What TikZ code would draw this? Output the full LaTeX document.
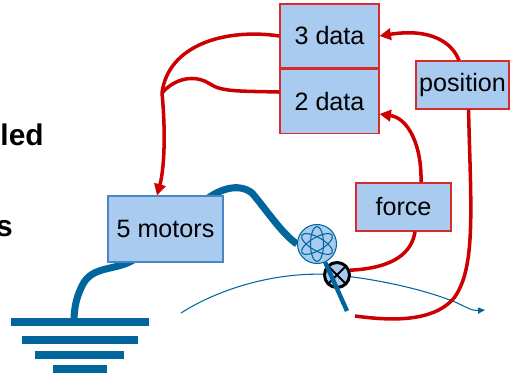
\documentclass[tikz,border=0pt]{standalone}
\usepackage{fontspec}
\setmainfont{Liberation Sans}
\usetikzlibrary{arrows.meta,positioning,backgrounds}
\definecolor{boxblue}{HTML}{A9CBEF}
\definecolor{boxred}{HTML}{D92B2B}
\definecolor{sigred}{HTML}{CC0000}
\definecolor{wireblue}{HTML}{00669B}
\definecolor{motorblue}{HTML}{4A86C5}

\begin{document}
\begin{tikzpicture}[x=0.02cm,y=-0.02cm,
  blk/.style={draw=boxred,fill=boxblue,line width=0.6pt,inner sep=1pt,font=\fontsize{14.3}{16}\selectfont},
  sig/.style={draw=sigred,line width=2pt},
  wire/.style={draw=wireblue,line width=4pt},
  trail/.style={draw=wireblue,line width=0.6pt,-{Triangle[length=4pt,width=3.5pt]}},
  >={Triangle[length=6.5pt,width=6.5pt]}
]
  \useasboundingbox (0,0) rectangle (510,377);

  % slide text cut off at the left
  \node[anchor=base east,inner sep=0pt,font=\bfseries\fontsize{17}{18}\selectfont] (txtA) at (44,146) {lled};
  \node[anchor=base east,inner sep=0pt,font=\bfseries\fontsize{17}{18}\selectfont] (txtB) at (13,237) {s};

  % blocks
  \node[blk,draw=motorblue,minimum width=2.3cm,minimum height=1.32cm] (motors) at (165.5,229) {5 motors};
  \node[blk,minimum width=1.98cm,minimum height=1.28cm] (d3) at (329.5,36) {3 data};
  \node[blk,minimum width=1.98cm,minimum height=1.28cm,below=0pt of d3] (d2) {2 data};
  \node[blk,minimum width=1.86cm,minimum height=0.96cm] (pos) at (462.5,85) {position};
  \node[blk,minimum width=1.9cm,minimum height=0.96cm] (force) at (403.5,207) {force};

  % ground
  \coordinate (gnd) at (74,322);
  \foreach \y/\a/\b in {322/11/149,340/22/138,355/35/124,369/53/107}
    \draw[wireblue,line width=4.3pt] (\a,\y) -- (\b,\y);
  \begin{scope}[on background layer]
    \draw[wire] ([xshift=-0.57cm,yshift=0.1cm]motors.south) .. controls (118,272) and (92,264) .. (82,286)
      .. controls (75,300) and (74,312) .. (gnd);
  \end{scope}

  % path of the tip
  \coordinate (t0) at (181,313);
  \coordinate (t1) at (485,310);
  \draw[trail] (t0) .. controls (220,288) and (280,270) .. (337,275)
    .. controls (390,281) and (430,292) .. (455,302) .. controls (466,307) and (472,311) .. (t1);

  % atom and sensor
  \node[circle,draw=wireblue,fill=boxblue,line width=0.6pt,minimum size=0.78cm] (atom) at (317,244) {};
  \foreach \r in {0,60,120}
    \draw[wireblue,line width=0.6pt,rotate around={\r:(atom.center)}] (atom.center) ellipse [x radius=0.13cm,y radius=0.35cm];
  \begin{scope}[on background layer]
    \draw[wire] ([xshift=0.79cm,yshift=-0.1cm]motors.north) .. controls (218,190) and (238,182) .. (252,193)
      .. controls (265,208) and (282,234) .. (atom.west);
  \end{scope}

  \node[circle,draw=black,fill=boxblue,line width=1.7pt,minimum size=0.5cm] (sens) at (337,275) {};
  \draw[black,line width=1.1pt,shorten <=1.5pt,shorten >=1.5pt] (sens.45) -- (sens.225);
  \draw[black,line width=1.1pt,shorten <=1.5pt,shorten >=1.5pt] (sens.135) -- (sens.315);
  \coordinate (rod) at (347,311);
  \draw[wireblue,line width=2.5pt] (atom) -- (rod);

  % signals
  \coordinate (merge) at (162,93);
  \draw[sig] (d3.west) .. controls (225,28) and (168,45) .. (merge);
  \draw[sig] ([yshift=0.18cm]d2.west) .. controls (240,91) and (222,92) .. (210,84)
    .. controls (195,74) and (175,78) .. (merge);
  \draw[sig,->] (merge) .. controls (166,135) and (164,170) .. ([xshift=-0.17cm]motors.north);
  \draw[sig,->] ([xshift=-0.07cm]pos.north) .. controls (452,42) and (430,28) .. (d3.east);
  \draw[sig,->] ([xshift=0.35cm]force.north) .. controls (422,145) and (408,118) .. ([yshift=-0.26cm]d2.east);
  \draw[sig] (sens.20) .. controls (395,268) and (412,252) .. ([xshift=0.23cm]force.south);
  \coordinate (rend) at (355,316);
  \draw[sig] ([xshift=0.12cm]pos.south) .. controls (471,210) and (476,268) .. (454,298)
    .. controls (432,324) and (385,320) .. (rend);
\end{tikzpicture}
\end{document}
